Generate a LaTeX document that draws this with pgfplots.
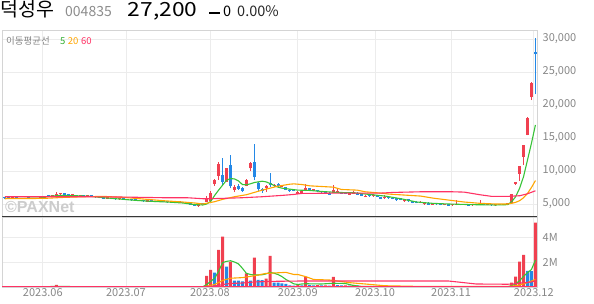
\documentclass[border=0pt]{standalone}
\usepackage{fontspec}
\setmainfont{Noto Sans CJK KR}
\newfontfamily\paxfont{Liberation Sans}
\usepackage{graphicx}
\usepackage{pgfplots}
\pgfplotsset{compat=1.18}
\usepackage{pgfplotstable}
\definecolor{cred}{RGB}{240,64,80}
\definecolor{cblue}{RGB}{36,136,230}
\definecolor{mag}{RGB}{55,195,55}
\definecolor{mao}{RGB}{255,165,0}
\definecolor{mar}{RGB}{255,50,100}
\definecolor{gridc}{RGB}{236,236,236}
\definecolor{bordc}{RGB}{212,212,212}
\definecolor{labc}{RGB}{135,135,135}
\definecolor{sepc}{RGB}{55,55,55}

\pgfplotstableread{
i o h l c v u
0 5900 5950 5820 5850 0.02 1
1 5850 5900 5800 5800 0.02 0
2 5800 5900 5780 5880 0.02 1
3 5880 5920 5800 5820 0.02 0
4 5820 5860 5760 5780 0.02 0
5 5780 5900 5760 5870 0.02 1
6 5870 5900 5780 5800 0.02 0
7 5800 5850 5750 5760 0.02 0
8 5760 5880 5740 5850 0.02 1
9 5850 5950 5820 5900 0.02 1
10 5950 6250 5950 6200 0.03 1
11 6200 6300 6100 6150 0.02 0
12 6150 6300 6100 6250 0.03 1
13 6250 6770 6200 6450 0.16 1
14 6450 6550 6300 6500 0.03 1
15 6500 6550 6350 6400 0.02 0
16 6400 6450 6250 6300 0.02 0
17 6300 6400 6200 6350 0.02 1
18 6350 6400 6150 6200 0.02 0
19 6200 6300 6100 6250 0.02 1
20 6250 6300 6100 6150 0.02 0
21 6150 6250 6050 6200 0.02 1
22 6200 6250 6050 6100 0.02 0
23 6100 6150 5950 6000 0.02 0
24 6000 6050 5850 5900 0.02 0
25 5900 5950 5750 5800 0.02 0
26 5800 5900 5750 5850 0.02 1
27 5850 5900 5700 5750 0.02 0
28 5750 5800 5650 5700 0.02 0
29 5700 5800 5650 5750 0.02 1
30 5750 5780 5600 5650 0.02 0
31 5650 5700 5550 5600 0.02 0
32 5600 5650 5500 5550 0.02 0
33 5550 5600 5450 5500 0.02 0
34 5450 5600 5400 5550 0.02 1
35 5500 5550 5350 5400 0.02 0
36 5350 5500 5300 5450 0.02 1
37 5450 5500 5300 5350 0.02 0
38 5350 5400 5250 5300 0.02 0
39 5300 5450 5250 5400 0.02 1
40 5400 5450 5250 5300 0.02 0
41 5300 5350 5200 5250 0.02 0
42 5250 5350 5200 5300 0.02 1
43 5300 5350 5150 5200 0.02 0
44 5200 5300 5150 5250 0.02 1
45 5250 5280 5100 5150 0.02 0
46 5150 5200 5000 5050 0.02 0
47 5050 5100 4850 4900 0.02 0
48 4900 4950 4700 4750 0.02 0
49 4650 5000 4550 4950 0.03 1
50 4950 5050 4850 4900 0.03 0
51 5350 6200 5300 5900 0.88 1
52 5500 7000 5400 6650 1.36 1
53 8000 8800 7750 8600 1.15 0
54 9250 11400 8650 11050 2.96 1
55 9400 11900 7900 8300 4.03 1
56 8400 10450 8300 10400 1.63 0
57 10900 12400 7350 7650 2.03 1
58 7150 7900 6800 7550 0.51 0
59 7700 8000 7150 7250 0.50 0
60 7400 7500 6800 6900 0.45 0
61 7750 8800 7650 8700 1.09 1
62 10400 11400 10000 11250 0.51 0
63 11400 14100 8600 9050 2.35 1
64 8200 8400 7000 7250 0.56 0
65 7200 7400 6700 7000 0.55 0
66 7400 7900 6800 7750 0.67 1
67 8150 9700 7600 7850 2.48 1
68 7750 8000 7600 7850 0.35 0
69 8100 8250 7550 7650 0.34 0
70 7550 7800 7500 7700 0.29 0
71 7500 7600 7100 7150 0.25 0
72 7100 7200 6850 6900 0.13 0
73 7200 7300 6950 7000 0.10 0
74 6550 6900 6500 6850 0.15 1
75 6700 6950 6650 6900 0.12 0
76 7000 8000 6950 7350 0.80 1
77 7300 7350 7100 7150 0.15 0
78 7000 7250 6950 7200 0.13 0
79 7100 7150 6850 6900 0.15 1
80 6950 7000 6700 6750 0.12 0
81 6900 6950 6650 6700 0.13 1
82 6700 6750 6350 6400 0.10 0
83 6650 7850 6600 7100 0.80 1
84 6800 7200 6750 6950 0.15 0
85 6700 6750 6500 6550 0.12 0
86 6700 6750 6500 6550 0.13 1
87 6400 6700 6350 6650 0.10 0
88 6550 6900 6500 6700 0.16 1
89 6700 6750 6350 6400 0.12 0
90 6500 6550 6200 6250 0.05 0
91 6050 6300 6000 6250 0.05 1
92 6350 6400 6100 6150 0.04 0
93 6150 6500 6100 6350 0.05 1
94 6250 6300 6050 6100 0.04 0
95 6000 6050 5700 5750 0.05 1
96 5850 6400 5800 6000 0.05 0
97 6000 6050 5800 5850 0.04 0
98 5950 6000 5700 5750 0.04 0
99 5850 5900 5500 5550 0.05 1
100 5800 5850 5600 5650 0.04 0
101 5400 5750 5350 5700 0.04 0
102 5700 5750 5350 5400 0.04 0
103 5450 5500 5100 5150 0.05 1
104 5350 5400 5100 5150 0.04 0
105 5150 5400 5100 5350 0.04 0
106 4950 5250 4900 5200 0.04 0
107 5200 5250 4850 4900 0.04 0
108 4900 5150 4850 5100 0.04 0
109 5100 5150 4900 4950 0.03 0
110 5050 5100 4800 4850 0.03 0
111 4850 5050 4800 5000 0.03 0
112 4950 5000 4700 4750 0.03 0
113 4800 5000 4750 4950 0.03 0
114 4850 5550 4800 4950 0.04 1
115 4950 5000 4800 4850 0.03 0
116 4850 4950 4800 4900 0.03 0
117 4900 4950 4700 4750 0.03 0
118 4800 4950 4750 4900 0.03 0
119 4900 4950 4800 4850 0.03 0
120 4850 5550 4800 4950 0.04 1
121 4950 5000 4800 4850 0.03 0
122 4850 4950 4800 4900 0.03 0
123 4900 4950 4750 4800 0.03 0
124 4800 4950 4750 4900 0.03 0
125 4900 4950 4800 4850 0.03 0
126 4850 4950 4800 4900 0.03 0
127 4900 5000 4850 4950 0.04 1
128 5100 6550 5000 6500 0.35 1
129 8050 8400 7850 8350 0.83 1
130 9550 10800 8550 10750 2.03 1
131 12150 13950 10900 13900 2.56 1
132 15450 18150 15400 18100 1.28 0
133 21150 23450 20750 23400 1.26 0
134 28050 30100 21600 27700 5.14 1
}\candles

\pgfplotstableread{
i m
0 5850
5 5850
9 5900
11 6150
14 6300
18 6250
22 6150
25 5950
29 5750
33 5550
37 5400
41 5300
45 5150
48 4900
50 4850
51 5000
52 5400
53 6300
54 7100
55 7850
56 8600
57 8850
58 8800
59 8500
60 7950
61 7900
62 8050
63 8250
64 8350
65 8450
66 8350
67 8100
68 7800
69 7550
70 7400
72 7250
74 7100
77 7050
80 6900
84 6750
88 6700
92 6450
96 6200
100 5800
104 5300
108 5100
112 5000
118 4900
124 4850
127 4900
128 5350
129 6100
130 7380
131 9140
132 11670
133 14200
134 16970
}\maFive

\pgfplotstableread{
i m
0 5800
10 5850
15 6000
20 6100
25 6150
30 6000
35 5750
40 5500
45 5300
48 5150
50 5000
53 5350
55 5700
58 6100
61 6400
65 7100
69 7700
72 8000
73 8050
75 7950
77 7750
80 7650
83 7550
85 7200
89 7100
91 6850
95 6650
97 6500
101 6350
105 6200
108 5900
112 5600
116 5300
120 5100
124 5000
127 5000
128 5100
129 5250
130 5500
131 5950
132 6600
133 7500
134 8550
}\maTwenty

\pgfplotstableread{
i m
0 6100
10 6100
20 6100
30 6050
40 5950
46 5950
50 5800
52 5800
55 5850
60 5950
65 6100
70 6300
73 6450
75 6600
85 6650
95 6650
98 6750
105 6850
113 6850
116 6800
118 6600
120 6400
123 6150
127 6150
130 6250
132 6550
134 7000
}\maSixty

\pgfplotstableread{
i m
0 0.02
11 0.02
12 0.05
16 0.05
17 0.02
50 0.02
51 0.2
52 0.45
53 0.7
54 1.25
55 1.95
56 2.05
57 2.1
58 2.0
59 1.85
60 1.5
61 1.1
62 1.0
63 0.96
64 0.96
65 0.98
66 1.05
67 1.17
68 1.1
69 1.0
70 0.83
71 0.6
72 0.43
73 0.25
74 0.2
75 0.24
76 0.26
80 0.24
82 0.28
83 0.3
86 0.28
88 0.12
90 0.05
100 0.03
127 0.03
128 0.1
129 0.25
130 0.5
131 0.85
132 1.15
133 1.4
134 2.16
}\vFive

\pgfplotstableread{
i m
0 0.02
50 0.02
51 0.06
53 0.2
55 0.52
57 0.7
60 0.75
63 0.9
66 1.09
71 1.17
73 1.0
74 1.0
76 0.83
78 0.6
82 0.56
87 0.35
91 0.24
96 0.1
104 0.05
127 0.04
129 0.1
130 0.16
132 0.35
134 0.61
}\vTwenty

\pgfplotstableread{
i m
0 0.02
50 0.03
52 0.05
54 0.12
55 0.2
57 0.28
60 0.32
63 0.4
67 0.45
75 0.48
112 0.48
115 0.38
119 0.24
127 0.22
129 0.26
131 0.34
133 0.4
134 0.51
}\vSixty

\pgfplotsset{
  chartbase/.style={
    scale only axis, anchor=south west, width=535pt,
    xmin=-0.7, xmax=134.4,
    xtick={9.6,30.6,51.8,74,93.5,112.7,133.6},
    major tick length=0pt,
    scaled y ticks=false, scaled x ticks=false,
    grid=major, major grid style={draw=gridc, line width=0.8pt},
    axis line style={draw=bordc, line width=0.8pt},
    yticklabel pos=right,
    yticklabel style={anchor=west, inner sep=0pt, xshift=5.5pt,
      font=\fontsize{11}{13}\selectfont, text=labc},
  },
  wick/.style={draw=none, mark=none, forget plot,
    error bars/y dir=plus, error bars/y explicit, error bars/error mark=none,
    error bars/error bar style={draw=#1, line width=0.9pt}},
  body/.style={draw=none, mark=none, forget plot,
    error bars/y dir=plus, error bars/y explicit, error bars/error mark=none,
    error bars/error bar style={draw=#1, line width=3pt}},
}

\begin{document}
\begin{tikzpicture}
\path[use as bounding box] (0pt,0pt) rectangle (594pt,304pt);

% ---------- price panel ----------
\begin{axis}[chartbase, at={(2pt,87pt)}, height=187pt,
  ymin=3030, ymax=31360, xticklabels={},
  ytick={5000,10000,15000,20000,25000,30000},
  yticklabels={{5,000},{10,000},{15,000},{20,000},{25,000},{30,000}},
]
\node[anchor=south west, inner sep=0pt, text=black!20,
  font=\paxfont\fontsize{16}{16}\selectfont\bfseries]
  at (rel axis cs:0,0) [xshift=3pt, yshift=4pt] {©PAXNet};
% wicks
\addplot[restrict expr to domain={\thisrow{c}-\thisrow{o}}{0:50000}, wick=cred]
  table[x=i, y=l, y error expr=\thisrow{h}-\thisrow{l}] {\candles};
\addplot[restrict expr to domain={\thisrow{c}-\thisrow{o}}{-50000:-1}, wick=cblue]
  table[x=i, y=l, y error expr=\thisrow{h}-\thisrow{l}] {\candles};
% bodies
\addplot[restrict expr to domain={\thisrow{c}-\thisrow{o}}{0:50000}, body=cred]
  table[x=i, y expr={min(\thisrow{o},\thisrow{c})},
        y error expr={max(abs(\thisrow{c}-\thisrow{o}),200)}] {\candles};
\addplot[restrict expr to domain={\thisrow{c}-\thisrow{o}}{-50000:-1}, body=cblue]
  table[x=i, y expr={min(\thisrow{o},\thisrow{c})},
        y error expr={max(abs(\thisrow{c}-\thisrow{o}),200)}] {\candles};
% moving averages
\addplot[mag, line width=1.1pt, mark=none] table[x=i, y=m] {\maFive};
\addplot[mao, line width=1.1pt, mark=none] table[x=i, y=m] {\maTwenty};
\addplot[mar, line width=1.1pt, mark=none] table[x=i, y=m] {\maSixty};
\end{axis}

% ---------- volume panel ----------
\begin{axis}[chartbase, at={(2pt,17pt)}, height=70pt,
  ymin=0, ymax=5.6,
  ytick={2,4}, yticklabels={2M,4M},
  xticklabels={2023.06,2023.07,2023.08,2023.09,2023.10,2023.11,2023.12},
  xticklabel style={anchor=base, inner sep=0pt, yshift=-10pt,
    font=\fontsize{11}{13}\selectfont, text=labc},
]
\addplot[ybar, bar width=3pt, bar shift=0pt, fill=cred, draw=none,
  restrict expr to domain={\thisrow{u}}{1:1}] table[x=i, y=v] {\candles};
\addplot[ybar, bar width=3pt, bar shift=0pt, fill=cblue, draw=none,
  restrict expr to domain={\thisrow{u}}{0:0}] table[x=i, y=v] {\candles};
\addplot[mag, line width=1.1pt, mark=none] table[x=i, y=m] {\vFive};
\addplot[mao, line width=1.1pt, mark=none] table[x=i, y=m] {\vTwenty};
\addplot[mar, line width=1.1pt, mark=none] table[x=i, y=m] {\vSixty};
\end{axis}

\draw[sepc, line width=1pt] (2pt,87pt) -- (537pt,87pt);
\draw[mar, line width=1.2pt] (2pt,17.3pt) -- (537pt,17.3pt);

% ---------- header ----------
\node[anchor=base west, inner sep=0pt, text height=14pt, font=\fontsize{19.5}{20}\selectfont]
  at (0.5pt,287.5pt) {덕성우};
\node[anchor=base west, inner sep=0pt, text height=10pt, text=black!45, font=\fontsize{14}{15}\selectfont]
  at (65pt,287.3pt) {004835};
\node[anchor=base west, inner sep=0pt, text height=14pt, font=\fontsize{19.5}{20}\selectfont]
  at (127.5pt,287.3pt) {\scalebox{1.17}[1]{27,200}};
\fill[black] (209pt,290pt) rectangle (220pt,292.2pt);
\node[anchor=base west, inner sep=0pt, text height=10pt, font=\fontsize{14.5}{15}\selectfont]
  at (223pt,287.3pt) {0};
\node[anchor=base west, inner sep=0pt, text height=10pt, text=black!85, font=\fontsize{14.5}{15}\selectfont]
  at (237pt,287.3pt) {0.00\%};
\node[anchor=base west, inner sep=0pt, text=labc, font=\fontsize{9.5}{10}\selectfont]
  at (6pt,259pt) {이동평균선};
\node[anchor=base west, inner sep=0pt, font=\fontsize{9.5}{10}\selectfont]
  at (60pt,259pt) {\textcolor{mag!90!black}{5}\hspace{2.5pt}\textcolor{mao}{20}\hspace{2.5pt}\textcolor{mar}{60}};
\end{tikzpicture}
\end{document}
